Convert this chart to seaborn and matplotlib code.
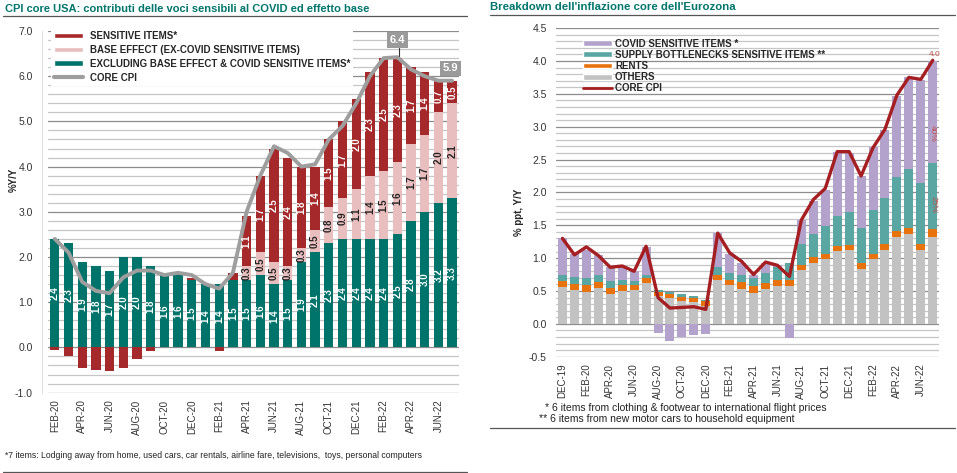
import numpy as np
import pandas as pd
import matplotlib
matplotlib.use("Agg")
import matplotlib.pyplot as plt
import seaborn as sns
from matplotlib.lines import Line2D
from matplotlib.patches import Patch
from matplotlib.ticker import MultipleLocator, FuncFormatter

# ---- USA: core CPI contributions (FEB-20 .. JUL-22) ----
us_months = [d.strftime("%b-%y").upper() for d in pd.date_range("2020-02-01", "2022-07-01", freq="MS")]
us_excl = [2.4, 2.3, 1.9, 1.8, 1.7, 2.0, 2.0, 1.8, 1.6, 1.6, 1.5, 1.4, 1.4, 1.5,
           1.5, 1.6, 1.4, 1.5, 1.9, 2.1, 2.3, 2.4, 2.4, 2.4, 2.4, 2.5, 2.8, 3.0, 3.2, 3.3]
us_base = [0, 0, 0, 0, 0, 0, 0, 0, 0, 0, 0, 0, 0, 0,
           0.3, 0.5, 0.5, 0.3, 0.3, 0.5, 0.8, 0.9, 1.1, 1.4, 1.5, 1.6, 1.7, 1.7, 2.0, 2.1]
us_sens = [-0.05, -0.2, -0.46, -0.5, -0.52, -0.45, -0.25, -0.09, 0.0, 0.03, 0.03, 0.0, -0.09, 0.15,
           1.1, 1.7, 2.5, 2.4, 1.8, 1.4, 1.5, 1.7, 2.0, 2.3, 2.5, 2.3, 1.7, 1.4, 0.7, 0.5]
us_core = [2.4, 2.1, 1.45, 1.25, 1.2, 1.55, 1.7, 1.7, 1.6, 1.65, 1.6, 1.4, 1.3, 1.65,
           3.0, 3.8, 4.45, 4.3, 4.0, 4.05, 4.6, 4.9, 5.4, 6.0, 6.4, 6.42, 6.15, 6.0, 5.9, 5.9]

# ---- Eurozone: core inflation breakdown (DEC-19 .. JUL-22) ----
ez_months = [d.strftime("%b-%y").upper() for d in pd.date_range("2019-12-01", "2022-07-01", freq="MS")]
ez_others = [0.56, 0.51, 0.49, 0.55, 0.46, 0.50, 0.51, 0.62, 0.42, 0.39, 0.34, 0.33, 0.27,
             0.66, 0.59, 0.53, 0.47, 0.53, 0.58, 0.58, 0.82, 0.93, 0.98, 1.11, 1.12,
             0.84, 0.99, 1.12, 1.32, 1.36, 1.13, 1.32]
ez_rents = [0.085, 0.10, 0.095, 0.085, 0.08, 0.085, 0.075, 0.075, 0.06, 0.07, 0.07, 0.07, 0.07,
            0.08, 0.08, 0.10, 0.10, 0.09, 0.09, 0.08, 0.08, 0.08, 0.09, 0.075, 0.075,
            0.08, 0.08, 0.09, 0.09, 0.10, 0.09, 0.13]
ez_supply = [0.105, 0.10, 0.115, 0.105, 0.105, 0.075, 0.06, 0.05, 0.04, 0.03, 0.04, 0.03, 0.02,
             0.12, 0.11, 0.11, 0.13, 0.16, 0.20, 0.27, 0.32, 0.36, 0.42, 0.46, 0.51,
             0.54, 0.66, 0.71, 0.82, 0.90, 0.93, 0.99]
ez_covid = [0.56, 0.35, 0.42, 0.30, 0.215, 0.20, 0.155, 0.42, -0.14, -0.26, -0.20, -0.17, -0.15,
            0.52, 0.29, 0.19, 0.04, 0.15, 0.02, -0.22, 0.36, 0.50, 0.55, 0.97, 0.89,
            0.79, 0.96, 1.03, 1.24, 1.39, 1.56, 1.56]
ez_core = [1.3, 1.05, 1.17, 1.04, 0.86, 0.88, 0.80, 1.18, 0.40, 0.24, 0.25, 0.26, 0.22,
           1.38, 1.08, 0.95, 0.75, 0.94, 0.89, 0.72, 1.58, 1.89, 2.06, 2.62, 2.62,
           2.25, 2.68, 2.96, 3.48, 3.75, 3.72, 4.01]

RED, PINK, TEAL, GREY = "#a5282a", "#e9bebe", "#00746b", "#9e9e9e"
LAV, BLUEG, ORANGE, LGREY, DRED = "#b3a3cc", "#5aa6a3", "#e8720c", "#c2c2c2", "#a51e22"
TITLE_C = "#00766c"

sns.set_style("white")
plt.rcParams["font.family"] = ["Liberation Sans", "DejaVu Sans"]

fig = plt.figure(figsize=(9.57, 4.73), dpi=100)
ax1 = fig.add_axes([0.0501, 0.170, 0.4295, 0.7645])
ax2 = fig.add_axes([0.5815, 0.2459, 0.3994, 0.6947])


def stack(ax, df, col, bottom, color, width):
    sns.barplot(data=df, x="month", y=col, bottom=bottom, color=color, width=width,
                saturation=1, errorbar=None, linewidth=0, ax=ax)


def style_axis(ax, major, minor, lo, hi, n):
    ax.set_ylim(lo, hi)
    ax.set_xlim(-0.5, n - 0.5)
    ax.yaxis.set_major_locator(MultipleLocator(major))
    ax.yaxis.set_minor_locator(MultipleLocator(minor))
    ax.yaxis.set_major_formatter(FuncFormatter(lambda v, p: f"{v:.1f}"))
    ax.grid(axis="y", which="major", color="#8c8c8c", lw=0.9)
    ax.grid(axis="y", which="minor", color="#c6c6c6", lw=0.9)
    ax.grid(axis="x", visible=False)
    ax.set_axisbelow(True)
    ax.tick_params(which="both", length=0)
    ax.tick_params(axis="y", labelsize=7.5, pad=7, colors="#333333")
    ax.tick_params(axis="x", labelsize=7, pad=5, colors="#333333")
    for s in ax.spines.values():
        s.set_visible(False)
    ax.set_xlabel("")
    ax.set_ylabel("")


# ---------------- left panel ----------------
us = pd.DataFrame({"month": us_months, "excl": us_excl, "base": us_base,
                   "sens": us_sens, "core": us_core})
n1 = len(us)
x1 = np.arange(n1)
excl = us["excl"].to_numpy()
base = us["base"].to_numpy()
sens = us["sens"].to_numpy()

stack(ax1, us, "excl", np.zeros(n1), TEAL, 0.68)
stack(ax1, us, "base", excl, PINK, 0.68)
stack(ax1, us, "sens", np.where(sens >= 0, excl + base, 0), RED, 0.68)
sns.lineplot(x=x1, y=us["core"], color=GREY, lw=2.8, ax=ax1, legend=False)

for i in range(n1):
    ax1.text(i, excl[i] / 2, f"{excl[i]:.1f}", rotation=90, ha="center", va="center",
             color="white", fontsize=7, fontweight="bold")
    if base[i] > 0:
        ax1.text(i, excl[i] + base[i] / 2, f"{base[i]:.1f}", rotation=90, ha="center",
                 va="center", color="#222222", fontsize=7, fontweight="bold")
    if sens[i] > 0.3:
        ax1.text(i, excl[i] + base[i] + sens[i] / 2, f"{sens[i]:.1f}", rotation=90,
                 ha="center", va="center", color="white", fontsize=7, fontweight="bold")

style_axis(ax1, 1.0, 0.2, -1.0, 7.0, n1)
ax1.set_xticks(x1[::2])
ax1.set_xticklabels(us_months[::2], rotation=90)
ax1.spines["left"].set_visible(True)
ax1.spines["left"].set_color("#e0e0e0")
ax1.spines["left"].set_position(("outward", 4))

box = dict(boxstyle="square,pad=0.25", fc="#9a9a9a", ec="none")
ax1.text(25, 6.8, "6.4", ha="center", va="center", color="white", fontsize=8,
         fontweight="bold", bbox=box)
ax1.plot([25.1, 25.1], [6.63, 6.44], color="#333333", lw=0.8)
ax1.text(28.9, 6.17, "5.9", ha="center", va="center", color="white", fontsize=8,
         fontweight="bold", bbox=box, clip_on=False)

h1 = [Patch(fc=RED), Patch(fc=PINK), Patch(fc=TEAL), Line2D([], [], color=GREY, lw=3)]
l1 = ["SENSITIVE ITEMS*", "BASE EFFECT (EX-COVID SENSITIVE ITEMS)",
      "EXCLUDING BASE EFFECT & COVID SENSITIVE ITEMS*", "CORE CPI"]
ax1.legend(h1, l1, loc="upper left", bbox_to_anchor=(0.008, 1.008), frameon=True,
           facecolor="white", edgecolor="none", framealpha=1, fancybox=False,
           prop={"weight": "bold", "size": 7}, handlelength=3.0, handleheight=0.55,
           labelspacing=0.4, borderpad=0.3, borderaxespad=0, handletextpad=0.7)

# ---------------- right panel ----------------
ez = pd.DataFrame({"month": ez_months, "others": ez_others, "rents": ez_rents,
                   "supply": ez_supply, "covid": ez_covid, "core": ez_core})
n2 = len(ez)
x2 = np.arange(n2)
oth = ez["others"].to_numpy()
ren = ez["rents"].to_numpy()
sup = ez["supply"].to_numpy()
cov = ez["covid"].to_numpy()

stack(ax2, ez, "others", np.zeros(n2), LGREY, 0.75)
stack(ax2, ez, "rents", oth, ORANGE, 0.75)
stack(ax2, ez, "supply", oth + ren, BLUEG, 0.75)
stack(ax2, ez, "covid", np.where(cov >= 0, oth + ren + sup, 0), LAV, 0.75)
sns.lineplot(x=x2, y=ez["core"], color=DRED, lw=2.4, ax=ax2, legend=False)

style_axis(ax2, 0.5, 0.1, -0.5, 4.5, n2)
ax2.set_xticks(x2[::2])
ax2.set_xticklabels(ez_months[::2], rotation=90)

ax2.text(31.2, 4.1, "4.0", ha="center", va="center", color="#c0504d", fontsize=6)
ax2.text(31, 2.9, "40%", ha="center", va="center", color="#c0504d", fontsize=6, rotation=270)
ax2.text(31, 1.82, "25%", ha="center", va="center", color="#c0504d", fontsize=6, rotation=270)

h2 = [Patch(fc=LAV), Patch(fc=BLUEG), Patch(fc=ORANGE), Patch(fc=LGREY),
      Line2D([], [], color=DRED, lw=2)]
l2 = ["COVID SENSITIVE ITEMS *", "SUPPLY BOTTLENECKS SENSITIVE ITEMS **", "RENTS",
      "OTHERS", "CORE CPI"]
ax2.legend(h2, l2, loc="upper left", bbox_to_anchor=(0.069, 0.968), frameon=False,
           prop={"weight": "bold", "size": 7}, handlelength=3.0, handleheight=0.55,
           labelspacing=0.12, borderpad=0, borderaxespad=0, handletextpad=0.3)

# ---------------- titles, labels, rules, notes ----------------
fig.text(5 / 957, 1 - 9 / 473, "CPI core USA: contributi delle voci sensibili al COVID ed effetto base",
         color=TITLE_C, fontsize=8, fontweight="bold", va="center")
fig.text(490 / 957, 1 - 7 / 473, "Breakdown dell'inflazione core dell'Eurozona",
         color=TITLE_C, fontsize=8.2, fontweight="bold", va="center")
for xs, yy in [((3, 467), 16), ((490, 955), 15), ((3, 467), 471.5), ((490, 955), 428)]:
    fig.add_artist(Line2D([xs[0] / 957, xs[1] / 957], [1 - yy / 473] * 2,
                          color="#555555", lw=0.9))

fig.text(14 / 957, 1 - 180 / 473, "%Y/Y", rotation=90, fontsize=7, fontweight="bold",
         ha="center", va="center")
fig.text(519 / 957, 1 - 212 / 473, "% ppt, Y/Y", rotation=90, fontsize=7, fontweight="bold",
         ha="center", va="center")

fig.text(5 / 957, 1 - 455 / 473,
         "*7 items: Lodging away from home, used cars, car rentals, airline fare, televisions,  toys, personal computers",
         fontsize=6.2, va="center", color="#222222")
fig.text(545 / 957, 1 - 408 / 473, "* 6 items from clothing & footwear to international flight prices",
         fontsize=7.5, va="center", color="#222222")
fig.text(539 / 957, 1 - 419 / 473, "** 6 items from new motor cars to household equipment",
         fontsize=7.5, va="center", color="#222222")

fig.savefig("out.png", dpi=100)
